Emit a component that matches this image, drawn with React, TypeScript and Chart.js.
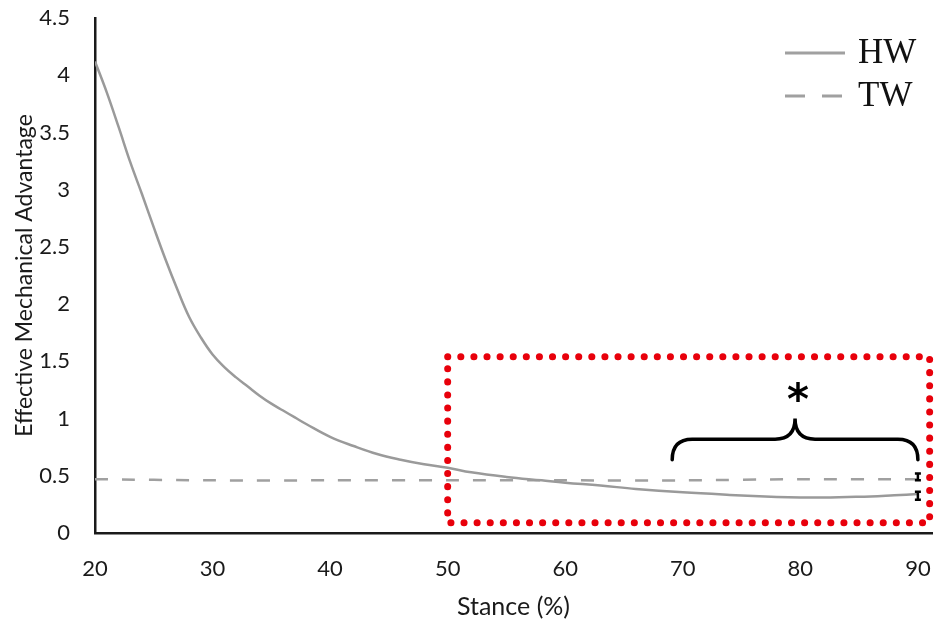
import React, { useEffect, useRef } from 'react';
import { Chart, registerables, Plugin } from 'chart.js';

Chart.register(...registerables);

// stance (%) and effective mechanical advantage
const hwStance = [20, 21, 22, 23, 24, 25, 26, 27, 28, 29, 30, 31, 32, 33, 34, 35, 36, 37, 38, 40, 42, 44, 46, 48, 50, 52, 55, 58, 60, 63, 66, 70, 74, 78, 80, 82, 84, 86, 88, 90];
const hwEma = [4.12, 3.85, 3.55, 3.24, 2.96, 2.67, 2.39, 2.13, 1.89, 1.71, 1.56, 1.45, 1.36, 1.28, 1.2, 1.13, 1.07, 1.01, 0.95, 0.84, 0.76, 0.69, 0.64, 0.6, 0.57, 0.53, 0.49, 0.46, 0.44, 0.415, 0.385, 0.355, 0.333, 0.315, 0.31, 0.31, 0.315, 0.32, 0.33, 0.34];
const twStance = [20, 30, 40, 50, 60, 70, 80, 90];
const twEma = [0.47, 0.46, 0.46, 0.46, 0.46, 0.46, 0.47, 0.47];

const xTicks = [20, 30, 40, 50, 60, 70, 80, 90];
const yTicks = [0, 0.5, 1, 1.5, 2, 2.5, 3, 3.5, 4, 4.5];

// highlighted region and significance marks (data units)
const boxStance = [50, 91];
const boxEma = [0.09, 1.54];
const braceStance = [69.1, 90];
const braceEma = [0.64, 0.82, 1.0];
const starPoint = [79.8, 1.23];
const markStance = 90;
const markRanges = [[0.46, 0.52], [0.29, 0.36]];

const seriesNames = ['HW', 'TW'];

const annotations: Plugin<'line'> = {
    id: 'annotations',
    afterDatasetsDraw(chart) {
        const { ctx, scales } = chart;
        const x = scales.x, y = scales.y;
        ctx.save();

        // red dotted box
        const bx0 = x.getPixelForValue(boxStance[0]);
        const bx1 = x.getPixelForValue(boxStance[1]);
        const by0 = y.getPixelForValue(boxEma[1]);
        const by1 = y.getPixelForValue(boxEma[0]);
        ctx.strokeStyle = '#e8000b';
        ctx.lineWidth = 7;
        ctx.lineCap = 'round';
        ctx.setLineDash([0.1, 13]);
        ctx.strokeRect(bx0, by0, bx1 - bx0, by1 - by0);

        // curly brace
        ctx.setLineDash([]);
        ctx.strokeStyle = '#000';
        ctx.lineWidth = 3.5;
        const l = x.getPixelForValue(braceStance[0]);
        const r = x.getPixelForValue(braceStance[1]);
        const m = (l + r) / 2;
        const tip = y.getPixelForValue(braceEma[0]);
        const arm = y.getPixelForValue(braceEma[1]);
        const peak = y.getPixelForValue(braceEma[2]);
        const rad = 20;
        ctx.beginPath();
        ctx.moveTo(l, tip);
        ctx.quadraticCurveTo(l, arm, l + rad, arm);
        ctx.lineTo(m - rad, arm);
        ctx.quadraticCurveTo(m, arm, m, peak);
        ctx.quadraticCurveTo(m, arm, m + rad, arm);
        ctx.lineTo(r - rad, arm);
        ctx.quadraticCurveTo(r, arm, r, tip);
        ctx.stroke();

        // asterisk
        ctx.fillStyle = '#000';
        ctx.font = 'bold 42px "DejaVu Sans"';
        ctx.textAlign = 'center';
        ctx.textBaseline = 'alphabetic';
        ctx.fillText('*', x.getPixelForValue(starPoint[0]), y.getPixelForValue(starPoint[1]) + 22);

        // small marks at the end of the curves
        ctx.lineWidth = 2.5;
        ctx.lineCap = 'butt';
        const mx = x.getPixelForValue(markStance);
        markRanges.forEach(([lo, hi]) => {
            const t = y.getPixelForValue(hi), b = y.getPixelForValue(lo);
            ctx.beginPath();
            ctx.moveTo(mx, t); ctx.lineTo(mx, b);
            ctx.moveTo(mx - 3, t); ctx.lineTo(mx + 3, t);
            ctx.moveTo(mx - 3, b); ctx.lineTo(mx + 3, b);
            ctx.stroke();
        });
        ctx.restore();
    },
    afterDraw(chart) {
        const { ctx, chartArea } = chart;
        ctx.save();
        const lx = chartArea.right - 147;
        const rows = [chartArea.top + 35, chartArea.top + 78];
        ctx.strokeStyle = '#a0a0a0';
        ctx.lineWidth = 3;
        rows.forEach((ry, i) => {
            ctx.setLineDash(i === 0 ? [] : [20, 17]);
            ctx.beginPath();
            ctx.moveTo(lx, ry);
            ctx.lineTo(lx + 60, ry);
            ctx.stroke();
        });
        ctx.setLineDash([]);
        ctx.fillStyle = '#111';
        ctx.font = '35px "Liberation Serif"';
        ctx.textAlign = 'left';
        ctx.textBaseline = 'middle';
        rows.forEach((ry, i) => ctx.fillText(seriesNames[i], lx + 73, ry + 1));
        ctx.restore();
    },
};

const App: React.FC = () => {
    const canvasRef = useRef<HTMLCanvasElement | null>(null);
    const chartRef = useRef<Chart | null>(null);

    useEffect(() => {
        if (!canvasRef.current) return;
        if (chartRef.current) chartRef.current.destroy();

        const tickFont = { family: 'Lato, sans-serif', size: 22 };

        chartRef.current = new Chart(canvasRef.current, {
            type: 'line',
            data: {
                datasets: [
                    {
                        label: seriesNames[0],
                        data: hwStance.map((s, i) => ({ x: s, y: hwEma[i] })),
                        borderColor: '#9a9a9a',
                        borderWidth: 2.5,
                        pointRadius: 0,
                        tension: 0.4,
                    },
                    {
                        label: seriesNames[1],
                        data: twStance.map((s, i) => ({ x: s, y: twEma[i] })),
                        borderColor: '#a0a0a0',
                        borderWidth: 2.5,
                        borderDash: [13, 14],
                        pointRadius: 0,
                        tension: 0.3,
                    },
                ],
            },
            options: {
                responsive: true,
                maintainAspectRatio: false,
                animation: false,
                layout: { autoPadding: false, padding: { top: 18, right: 18, left: 0, bottom: 0 } },
                plugins: {
                    legend: { display: false },
                    tooltip: { enabled: false },
                },
                scales: {
                    x: {
                        type: 'linear',
                        min: 20,
                        max: 91.2,
                        afterBuildTicks: (scale) => {
                            scale.ticks = xTicks.map((v) => ({ value: v }));
                        },
                        afterFit: (scale) => {
                            // tick padding would otherwise push the plot edge inwards
                            scale.height = 94;
                            scale.paddingLeft = 0;
                            scale.paddingRight = 0;
                        },
                        grid: { display: false, drawTicks: false },
                        border: { display: true, color: '#1a1a1a', width: 2.5 },
                        ticks: { font: tickFont, color: '#1a1a1a', padding: 23, maxRotation: 0 },
                        title: {
                            display: true,
                            text: 'Stance (%)',
                            font: { family: 'Lato, sans-serif', size: 25 },
                            color: '#1a1a1a',
                            padding: { top: 0, bottom: 5 },
                        },
                    },
                    y: {
                        type: 'linear',
                        min: 0,
                        max: 4.5,
                        afterBuildTicks: (scale) => {
                            scale.ticks = yTicks.map((v) => ({ value: v }));
                        },
                        afterFit: (scale) => {
                            scale.width = 95;
                            scale.paddingTop = 0;
                            scale.paddingBottom = 0;
                        },
                        grid: { display: false, drawTicks: false },
                        border: { display: true, color: '#1a1a1a', width: 2.5 },
                        ticks: {
                            font: tickFont,
                            color: '#1a1a1a',
                            padding: 25,
                            callback: (v) => String(v),
                        },
                        title: {
                            display: true,
                            text: 'Effective Mechanical Advantage',
                            font: { family: 'Lato, sans-serif', size: 23 },
                            color: '#1a1a1a',
                            padding: { top: 11, bottom: 0 },
                        },
                    },
                },
            },
            plugins: [annotations],
        });

        return () => {
            if (chartRef.current) {
                chartRef.current.destroy();
                chartRef.current = null;
            }
        };
    }, []);

    return (
        <div style={{ position: 'absolute', left: 0, top: 0, width: 950, height: 627, background: '#fff' }}>
            <canvas ref={canvasRef}></canvas>
        </div>
    );
};

export default App;
